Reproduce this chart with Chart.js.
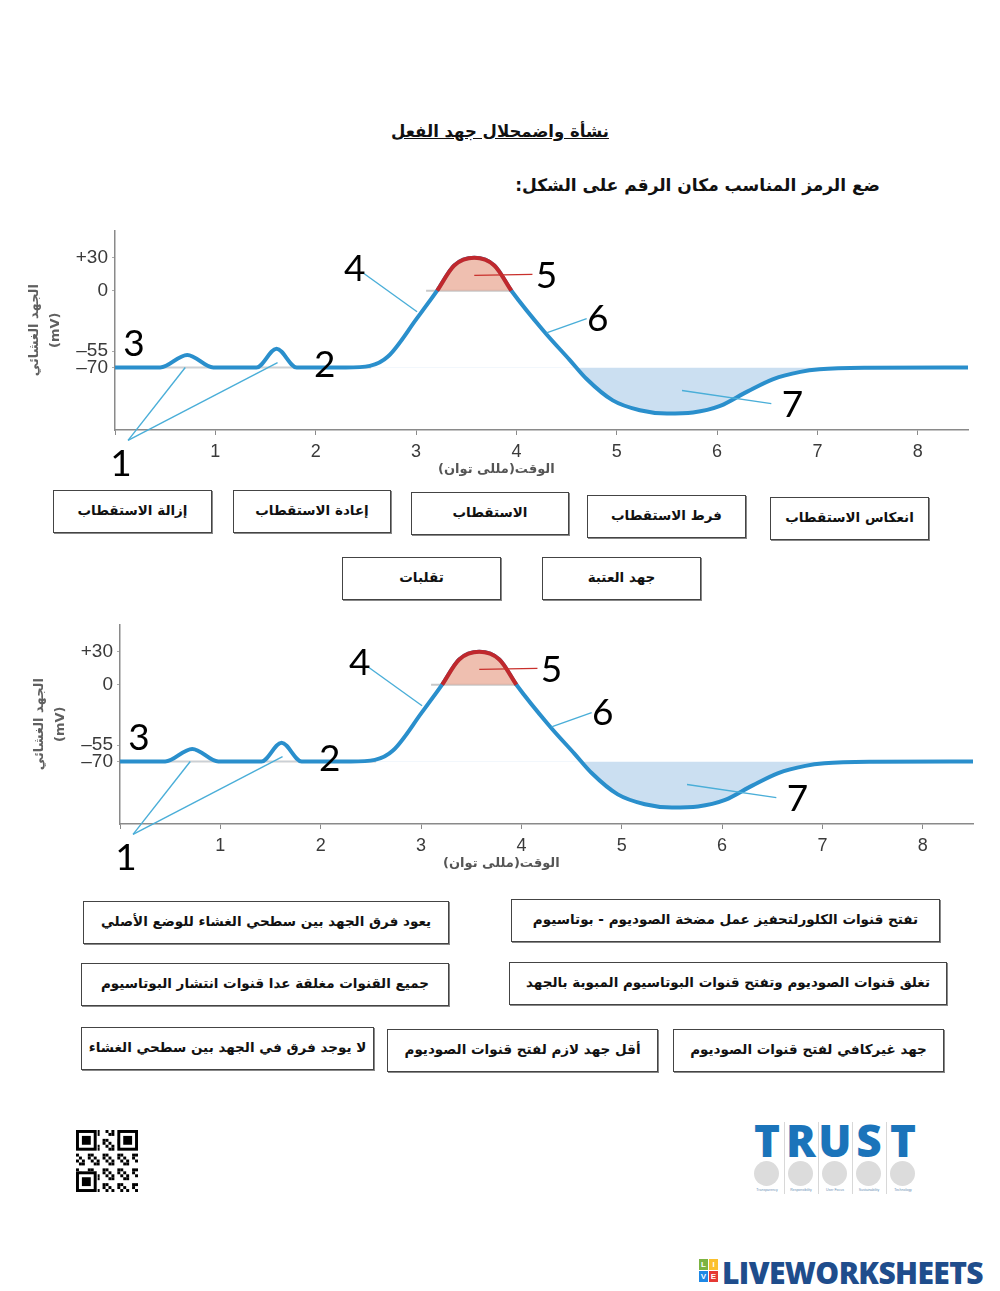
<!DOCTYPE html>
<html>
<head>
<meta charset="utf-8">
<script src="https://cdn.jsdelivr.net/npm/chart.js@4.4.1/dist/chart.umd.min.js"></script>
<style>
  body { margin: 0; background: #fff; }
  #page { position: relative; width: 1000px; height: 1291px; overflow: hidden; font-family: "DejaVu Sans", sans-serif; }
  .ar { position: absolute; direction: rtl; font-weight: bold; color: #111; white-space: nowrap; }
  .box { position: absolute; border: 1px solid #444; box-shadow: 1px 1px 0 #888; display: flex; align-items: center; justify-content: center;
         direction: rtl; font-weight: bold; font-size: 13.5px; color: #111; white-space: nowrap; padding-bottom: 4px; box-sizing: border-box; }
  .chartwrap { position: absolute; width: 960px; height: 265px; }
  #trust { position: absolute; left: 750px; top: 1118px; width: 172px; height: 80px; }
  .tl { position: absolute; top: 0; width: 34px; text-align: center; font: 900 44px "Open Sans", sans-serif; color: #1b74ba; line-height: 44px; }
  .tsep { position: absolute; top: 4px; width: 1px; height: 72px; background: #d8d8d8; }
  .tc { position: absolute; top: 43px; width: 25px; height: 25px; border-radius: 50%; background: #dcdcdc; }
  .tt { position: absolute; top: 70px; width: 34px; text-align: center; font: 3.5px sans-serif; color: #6a8fb5; }
  #lws { position: absolute; left: 722px; top: 1252px; font: 800 30px "Open Sans", sans-serif; color: #1f4d8c; letter-spacing: -0.6px; }
  .lsq { position: absolute; width: 9px; height: 11px; font: bold 8px sans-serif; color: #fff; text-align: center; line-height: 11px; }
</style>
</head>
<body>
<div id="page">
  <div class="ar" style="left:385px; top:122px; width:230px; text-align:center; font-size:16.5px; text-decoration:underline;">نشأة واضمحلال جهد الفعل</div>
  <div class="ar" style="left:540px; top:175px; width:340px; text-align:right; font-size:17px;">ضع الرمز المناسب مكان الرقم على الشكل:</div>

  <div class="chartwrap" style="left:20px; top:215px;"><canvas id="c1" width="960" height="265"></canvas></div>

  <div class="box" style="left:53px; top:490px; width:159px; height:43px;">إزالة الاستقطاب</div>
  <div class="box" style="left:233px; top:490px; width:158px; height:43px;">إعادة الاستقطاب</div>
  <div class="box" style="left:411px; top:492px; width:158px; height:43px;">الاستقطاب</div>
  <div class="box" style="left:587px; top:495px; width:159px; height:43px;">فرط الاستقطاب</div>
  <div class="box" style="left:770px; top:497px; width:159px; height:43px;">انعكاس الاستقطاب</div>
  <div class="box" style="left:342px; top:557px; width:159px; height:43px;">تقلبات</div>
  <div class="box" style="left:542px; top:557px; width:159px; height:43px;">جهد العتبة</div>

  <div class="chartwrap" style="left:25px; top:609px;"><canvas id="c2" width="960" height="265"></canvas></div>

  <div class="box" style="left:83px; top:901px; width:366px; height:43px;">يعود فرق الجهد بين سطحي الغشاء للوضع الأصلي</div>
  <div class="box" style="left:511px; top:899px; width:429px; height:43px;">تفتح قنوات الكلورلتحفيز عمل مضخة الصوديوم - بوتاسيوم</div>
  <div class="box" style="left:81px; top:963px; width:368px; height:43px;">جميع القنوات مغلقة عدا قنوات انتشار البوتاسيوم</div>
  <div class="box" style="left:509px; top:962px; width:438px; height:43px;">تغلق قنوات الصوديوم وتفتح قنوات البوتاسيوم المبوبة بالجهد</div>
  <div class="box" style="left:81px; top:1027px; width:293px; height:43px;">لا يوجد فرق في الجهد بين سطحي الغشاء</div>
  <div class="box" style="left:387px; top:1029px; width:271px; height:43px;">أقل جهد لازم لفتح قنوات الصوديوم</div>
  <div class="box" style="left:673px; top:1029px; width:271px; height:43px;">جهد غيركافي لفتح قنوات الصوديوم</div>

  <canvas id="qr" width="62" height="62" style="position:absolute; left:76px; top:1130px;"></canvas>

  <div id="trust">
    <div class="tl" style="left:0px;">T</div>
    <div class="tl" style="left:34px;">R</div>
    <div class="tl" style="left:68px;">U</div>
    <div class="tl" style="left:102px;">S</div>
    <div class="tl" style="left:136px;">T</div>
    <div class="tsep" style="left:34px;"></div>
    <div class="tsep" style="left:68px;"></div>
    <div class="tsep" style="left:102px;"></div>
    <div class="tsep" style="left:136px;"></div>
    <div class="tc" style="left:4px;"></div>
    <div class="tc" style="left:38px;"></div>
    <div class="tc" style="left:72px;"></div>
    <div class="tc" style="left:106px;"></div>
    <div class="tc" style="left:140px;"></div>
    <div class="tt" style="left:0px;">Transparency</div>
    <div class="tt" style="left:34px;">Responsibility</div>
    <div class="tt" style="left:68px;">User Focus</div>
    <div class="tt" style="left:102px;">Sustainability</div>
    <div class="tt" style="left:136px;">Technology</div>
  </div>

  <div class="lsq" style="left:699px; top:1259px; background:#7cb342;">L</div>
  <div class="lsq" style="left:709px; top:1259px; background:#fbc02d;">I</div>
  <div class="lsq" style="left:699px; top:1271px; background:#1e88e5;">V</div>
  <div class="lsq" style="left:709px; top:1271px; background:#e53935;">E</div>
  <div id="lws">LIVEWORKSHEETS</div>
</div>

<script>
// action potential (time in ms, membrane potential in mV)
const timeMs = [0, 0.45, 0.72, 0.98, 1.41, 1.61, 1.81, 2.3, 2.54, 2.72, 3.01, 3.21, 3.38, 3.58, 3.78, 3.95,
                4.28, 4.53, 4.70, 4.96, 5.23, 5.50, 5.76, 6.03, 6.30, 6.56, 6.83, 7.02, 7.5, 8.5];
const membraneMv = [-70, -70, -58.5, -70, -70, -53, -70, -70, -68.5, -60, -25, 0, 23, 30, 23, 0,
                    -37.6, -63, -80.5, -100, -109, -112, -111, -105, -92, -80.5, -74, -71.7, -70.3, -70];
const restingMv = -70;
const restGuideMs = [0.3, 2.55];
const zeroGuideMs = [3.1, 3.97];

const yTickValues = [30, 0, -55, -70];
const yTickLabels = ['+30', '0', '\u201355', '\u201370'];
const xTickValues = [0, 1, 2, 3, 4, 5, 6, 7, 8];
const xTickLabels = ['', '1', '2', '3', '4', '5', '6', '7', '8'];
const yTitle = ['الجهد الغشائي', '(mV)'];
const xTitle = 'الوقت(مللى توان)';

// numbered callouts: label, anchor in axis units
const calloutText = ['1', '2', '3', '4', '5', '6', '7'];
const calloutAt = [[0.06, -157], [2.09, -66.5], [0.19, -47], [2.39, 21], [4.30, 15], [4.81, -24.5], [6.75, -103]];
const leaderLines = [
  { from: [0.13, -136.5], to: [0.70, -70], color: '#4aaed8' },
  { from: [0.13, -136.5], to: [1.62, -65.6], color: '#4aaed8' },
  { from: [2.48, 15.7], to: [3.01, -19.2], color: '#4aaed8' },
  { from: [3.58, 14], to: [4.16, 14.9], color: '#c9302c' },
  { from: [4.30, -38.5], to: [4.70, -25.4], color: '#4aaed8' },
  { from: [5.65, -91], to: [6.54, -103], color: '#4aaed8' }
];

const curve = timeMs.map((t, i) => ({ x: t, y: membraneMv[i] }));
const overshoot = curve.filter(p => p.y >= 0);

const calloutPlugin = {
  id: 'callouts',
  afterDatasetsDraw(chart) {
    const { ctx, scales: { x, y } } = chart;
    ctx.save();
    ctx.lineWidth = 1.4;
    leaderLines.forEach(l => {
      ctx.strokeStyle = l.color;
      ctx.beginPath();
      ctx.moveTo(x.getPixelForValue(l.from[0]), y.getPixelForValue(l.from[1]));
      ctx.lineTo(x.getPixelForValue(l.to[0]), y.getPixelForValue(l.to[1]));
      ctx.stroke();
    });
    ctx.fillStyle = '#000';
    ctx.font = '37px Lato';
    ctx.textAlign = 'center';
    ctx.textBaseline = 'alphabetic';
    calloutText.forEach((t, i) => {
      const [cx, cy] = calloutAt[i];
      ctx.fillText(t, x.getPixelForValue(cx), y.getPixelForValue(cy) + 13.5);
    });
    ctx.fillStyle = '#555';
    ctx.font = 'bold 13px "DejaVu Sans"';
    ctx.direction = 'rtl';
    ctx.fillText(xTitle, x.getPixelForValue(3.8), chart.chartArea.bottom + 43);
    ctx.restore();
  }
};

function drawChart(id) {
  return new Chart(document.getElementById(id), {
    type: 'line',
    data: {
      datasets: [
        { data: overshoot, borderColor: '#c0282d', borderWidth: 4, pointRadius: 0, cubicInterpolationMode: 'monotone',
          fill: { target: { value: 0 }, above: 'rgba(234,170,150,0.75)', below: 'rgba(0,0,0,0)' } },
        { data: curve, borderColor: '#2a8fcc', borderWidth: 4, pointRadius: 0, cubicInterpolationMode: 'monotone',
          fill: { target: { value: restingMv }, above: 'rgba(0,0,0,0)', below: 'rgba(190,215,238,0.8)' } },
        { data: restGuideMs.map(t => ({ x: t, y: restingMv })), borderColor: '#cfcfcf', borderWidth: 2, pointRadius: 0, fill: false },
        { data: zeroGuideMs.map(t => ({ x: t, y: 0 })), borderColor: '#c8c8c8', borderWidth: 2, pointRadius: 0, fill: false }
      ]
    },
    options: {
      responsive: false,
      animation: false,
      layout: { padding: { top: 7, right: 12, left: 0, bottom: 0 } },
      plugins: { legend: { display: false }, tooltip: { enabled: false } },
      scales: {
        x: {
          type: 'linear', min: 0, max: 8.5,
          afterBuildTicks: s => { s.ticks = xTickValues.map(v => ({ value: v })); },
          afterFit: s => { s.height = 50; },
          ticks: { callback: (v, i) => xTickLabels[i], color: '#3a3a3a', font: { family: 'Liberation Sans', size: 18 }, padding: 6, maxRotation: 0 },
          grid: { drawOnChartArea: false, color: '#8a8a8a', tickLength: 5 },
          border: { color: '#8a8a8a', width: 1.5 }
        },
        y: {
          type: 'linear', min: -127, max: 55,
          afterBuildTicks: s => { s.ticks = yTickValues.map(v => ({ value: v })); },
          afterFit: s => { s.width = 95; },
          ticks: { callback: (v, i) => yTickLabels[i], color: '#3a3a3a', font: { family: 'Liberation Sans', size: 19 }, padding: 4 },
          grid: { drawOnChartArea: false, color: '#aaa', tickLength: 3 },
          border: { color: '#8a8a8a', width: 1.5 },
          title: { display: true, text: yTitle, color: '#606060', padding: { top: 4, bottom: 0 },
                   font: { family: 'DejaVu Sans', size: 13, weight: 'bold', lineHeight: 1.6 } }
        }
      }
    },
    plugins: [calloutPlugin]
  });
}

drawChart('c1');
drawChart('c2');

// small QR-like mark
(function () {
  const q = document.getElementById('qr').getContext('2d');
  const n = 21, c = 62 / n;
  q.fillStyle = '#000';
  for (let r = 0; r < n; r++) for (let k = 0; k < n; k++) {
    if (((r * 7 + k * 13 + r * k) % 5) < 2) q.fillRect(k * c, r * c, c, c);
  }
  [[0, 0], [14, 0], [0, 14]].forEach(([a, b]) => {
    q.fillStyle = '#fff'; q.fillRect(a * c, b * c, 7 * c + 1, 7 * c + 1);
    q.fillStyle = '#000'; q.fillRect(a * c, b * c, 7 * c, 7 * c);
    q.fillStyle = '#fff'; q.fillRect((a + 1) * c, (b + 1) * c, 5 * c, 5 * c);
    q.fillStyle = '#000'; q.fillRect((a + 2) * c, (b + 2) * c, 3 * c, 3 * c);
  });
})();
</script>
</body>
</html>
